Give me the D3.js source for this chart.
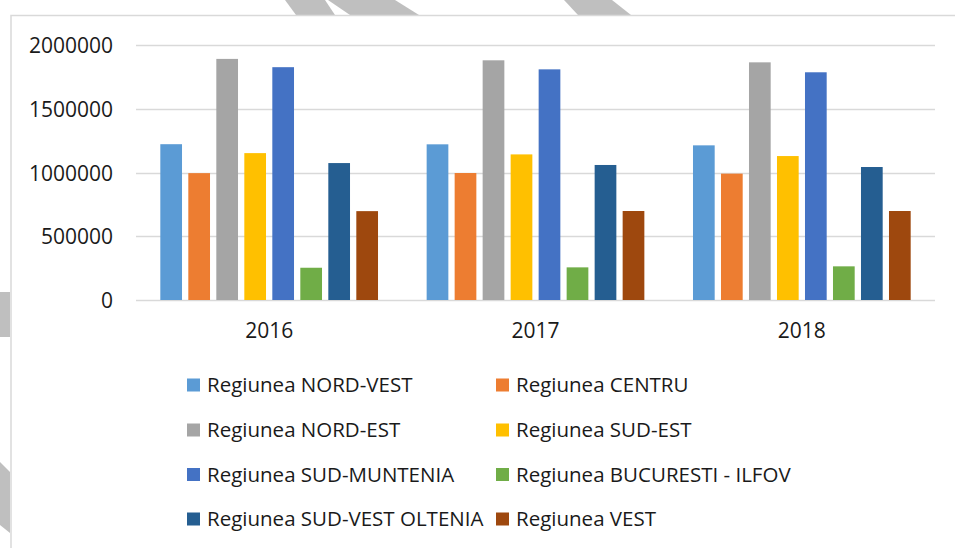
<!DOCTYPE html>
<html>
<head>
<meta charset="utf-8">
<script src="https://cdn.jsdelivr.net/npm/d3@7"></script>
<style>
  body { margin: 0; background: #fff; }
  text { font-family: "Open Sans", "Noto Sans", sans-serif; }
</style>
</head>
<body>
<script>
// data
var years = ["2016", "2017", "2018"];
var regions = ["Regiunea NORD-VEST", "Regiunea CENTRU", "Regiunea NORD-EST", "Regiunea SUD-EST",
               "Regiunea SUD-MUNTENIA", "Regiunea BUCURESTI - ILFOV", "Regiunea SUD-VEST OLTENIA", "Regiunea VEST"];
var colours = ["#5b9bd5", "#ed7d31", "#a5a5a5", "#ffc000", "#4472c4", "#70ad47", "#255e91", "#9e480e"];
var values2016 = [1222000, 995000, 1891000, 1152000, 1826000, 253000, 1074000, 697000];
var values2017 = [1221000, 996000, 1880000, 1142000, 1809000, 256000, 1059000, 698000];
var values2018 = [1213000, 991000, 1864000, 1129000, 1786000, 264000, 1043000, 698000];
var yTicks = [0, 500000, 1000000, 1500000, 2000000];

var valuesByYear = [values2016, values2017, values2018];

var width = 955, height = 548;
var plotLeft = 136, plotRight = 935, plotTop = 45, plotBottom = 300;
var gridColour = "#d9d9d9";

var svg = d3.select("body").append("svg")
    .attr("width", width).attr("height", height);

// watermark fragments behind the frame
var shapes = [
  [[285,0],[325,0],[335,15],[296,15]],
  [[328,0],[395,0],[419,15],[350,15]],
  [[564,0],[612,0],[631,15],[578,15]],
  [[0,292],[10,292],[10,337],[0,337]],
  [[0,462],[10,472],[10,533],[0,525]]
];
svg.selectAll("polygon.wm").data(shapes).enter().append("polygon")
    .attr("class", "wm")
    .attr("points", function(d) { return d.map(function(p) { return p.join(","); }).join(" "); })
    .attr("fill", "#bfbfbf");

// chart frame
svg.append("rect")
    .attr("x", 11).attr("y", 15.5).attr("width", 960).attr("height", 560)
    .attr("fill", "#fff").attr("stroke", gridColour).attr("stroke-width", 1.5);

var x0 = d3.scaleBand().domain(years).range([plotLeft, plotRight]).padding(0);
var groupW = 224;
var x1 = d3.scaleBand().domain(regions).range([0, groupW])
    .paddingInner(0.225).paddingOuter(0.1125);
var y = d3.scaleLinear().domain([0, 2000000]).range([plotBottom, plotTop]);

// gridlines
svg.append("g").selectAll("line").data(yTicks).enter().append("line")
    .attr("x1", plotLeft).attr("x2", plotRight)
    .attr("y1", function(d) { return Math.round(y(d)) + 0.5; })
    .attr("y2", function(d) { return Math.round(y(d)) + 0.5; })
    .attr("stroke", gridColour).attr("stroke-width", 1.3);

// y axis labels
var yAxis = d3.axisLeft(y).tickValues(yTicks).tickFormat(d3.format("d")).tickSize(0).tickPadding(0);
var yg = svg.append("g").attr("transform", "translate(113,0)").call(yAxis);
yg.select(".domain").remove();
yg.selectAll("text")
    .attr("font-family", "Open Sans").attr("font-size", 21).attr("fill", "#1a1a1a")
    .attr("dy", "0.36em");

// bars
var groups = svg.append("g").selectAll("g").data(years).enter().append("g")
    .attr("transform", function(d) { return "translate(" + (x0(d) + (x0.bandwidth() - groupW) / 2) + ",0)"; });

groups.selectAll("rect")
    .data(function(d, i) { return valuesByYear[i].map(function(v, j) { return { region: regions[j], value: v, c: colours[j] }; }); })
    .enter().append("rect")
    .attr("x", function(d) { return x1(d.region); })
    .attr("width", x1.bandwidth())
    .attr("y", function(d) { return y(d.value); })
    .attr("height", function(d) { return y(0) - y(d.value); })
    .attr("fill", function(d) { return d.c; });

// x axis labels
var xAxis = d3.axisBottom(x0).tickSize(0).tickPadding(0);
var xg = svg.append("g").attr("transform", "translate(0,338)").call(xAxis);
xg.select(".domain").remove();
xg.selectAll("text")
    .attr("font-family", "Open Sans").attr("font-size", 21).attr("fill", "#1a1a1a")
    .attr("dy", 0).attr("y", 0);

// legend, two columns
var colX = [187, 496];
var rowY = [385, 430, 474.5, 519];
var legend = svg.append("g").selectAll("g").data(regions).enter().append("g")
    .attr("transform", function(d, i) { return "translate(" + colX[i % 2] + "," + rowY[Math.floor(i / 2)] + ")"; });
legend.append("rect")
    .attr("x", 0).attr("y", -6.5).attr("width", 13).attr("height", 13)
    .attr("fill", function(d, i) { return colours[i]; });
legend.append("text")
    .attr("x", 20).attr("y", 0).attr("dy", "0.35em")
    .attr("font-size", 20.5).attr("fill", "#1a1a1a")
    .text(function(d) { return d; });
</script>
</body>
</html>
